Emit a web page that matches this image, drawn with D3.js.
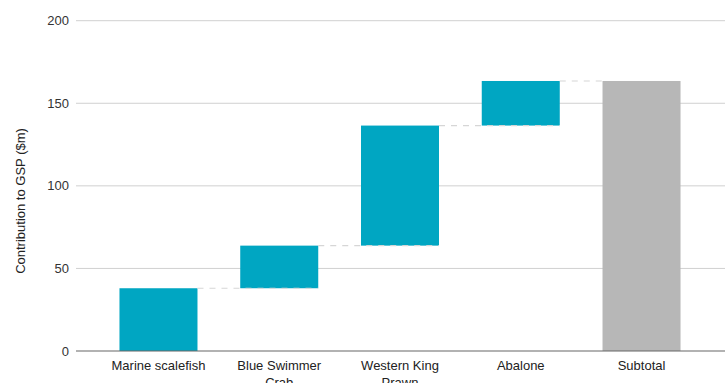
<!DOCTYPE html>
<html>
<head>
<meta charset="utf-8">
<script src="https://cdn.jsdelivr.net/npm/d3@7"></script>
<style>
  html, body { margin: 0; padding: 0; background: #fff; }
  svg { display: block; font-family: "Liberation Sans", Arial, sans-serif; }
</style>
</head>
<body>
<svg id="chart" width="725" height="383"></svg>
<script>
// Contribution of each fishery to GSP ($m), stacked as a waterfall
const categories = ["Marine scalefish", "Blue Swimmer Crab", "Western King Prawn", "Abalone", "Subtotal"];
const deltas = [38, 25.8, 72.7, 27, null];   // null marks the running total bar
const yTicks = [0, 50, 100, 150, 200];
const categoryLines = [["Marine scalefish"], ["Blue Swimmer", "Crab"], ["Western King", "Prawn"], ["Abalone"], ["Subtotal"]];

// Build waterfall segments
let running = 0;
const segments = categories.map((c, i) => {
  if (deltas[i] === null) {
    return { cat: c, y0: 0, y1: running, total: true };
  }
  const s = { cat: c, y0: running, y1: running + deltas[i], total: false };
  running += deltas[i];
  return s;
});

const svg = d3.select("#chart");
const plotLeft = 76, plotRight = 724, plotTop = 20.7, plotBottom = 351;

const x = d3.scaleBand().domain(categories).range([plotLeft, plotRight])
  .paddingInner(0.354).paddingOuter(0.36);
const y = d3.scaleLinear().domain([0, 200]).range([plotBottom, plotTop]);

// Gridlines
svg.append("g").selectAll("line").data(yTicks.filter(t => t !== 0)).join("line")
  .attr("x1", plotLeft).attr("x2", 725)
  .attr("y1", d => y(d)).attr("y2", d => y(d))
  .attr("stroke", "#d0d0d0").attr("stroke-width", 1);

// Y tick labels
svg.append("g").selectAll("text").data(yTicks).join("text")
  .attr("x", 69).attr("y", d => y(d)).attr("dy", "0.35em")
  .attr("text-anchor", "end").attr("font-size", 13).attr("fill", "#333")
  .text(d => d);

// Y axis title
svg.append("text")
  .attr("transform", "translate(25,201) rotate(-90)")
  .attr("text-anchor", "middle").attr("font-size", 13).attr("fill", "#222")
  .text("Contribution to GSP ($m)");

// Bars
svg.append("g").selectAll("rect").data(segments).join("rect")
  .attr("x", d => x(d.cat)).attr("width", x.bandwidth())
  .attr("y", d => y(d.y1)).attr("height", d => y(d.y0) - y(d.y1))
  .attr("fill", d => d.total ? "#b7b7b7" : "#00a6c2");

// Connectors between consecutive bars
const links = segments.slice(0, -1).map((d, i) => ({ from: d, to: segments[i + 1] }));
svg.append("g").selectAll("line").data(links).join("line")
  .attr("x1", d => x(d.from.cat) + x.bandwidth())
  .attr("x2", d => x(d.to.cat) + (d.to.total ? 0 : x.bandwidth()))
  .attr("y1", d => y(d.from.y1)).attr("y2", d => y(d.from.y1))
  .attr("stroke", "#d6d6d6").attr("stroke-width", 1.2)
  .attr("stroke-dasharray", "6,6");

// Baseline
svg.append("line")
  .attr("x1", plotLeft).attr("x2", 725).attr("y1", y(0)).attr("y2", y(0))
  .attr("stroke", "#666").attr("stroke-width", 1.2);

// Category labels
const lab = svg.append("g").selectAll("text").data(categories).join("text")
  .attr("x", d => x(d) + x.bandwidth() / 2).attr("y", 370)
  .attr("text-anchor", "middle").attr("font-size", 13).attr("fill", "#222");
lab.each(function(d, i) {
  d3.select(this).selectAll("tspan").data(categoryLines[i]).join("tspan")
    .attr("x", x(d) + x.bandwidth() / 2)
    .attr("dy", (t, j) => j === 0 ? 0 : 17)
    .text(t => t);
});
</script>
</body>
</html>
